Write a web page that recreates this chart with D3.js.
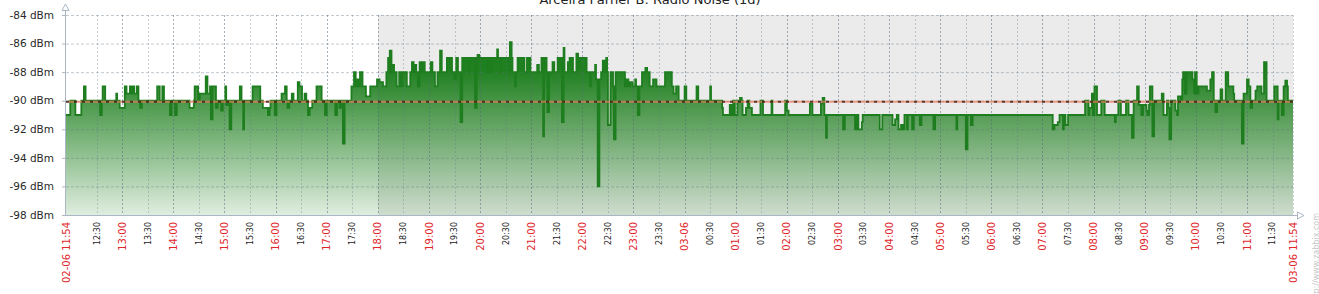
<!DOCTYPE html>
<html><head><meta charset="utf-8">
<script src="https://cdn.jsdelivr.net/npm/d3@7"></script>
<style>html,body{margin:0;padding:0;background:#fff;overflow:hidden}</style>
</head><body><svg id="c" width="1319" height="294"></svg>
<script>
// ---- data ----
const chartTitle = "Arceira Parner B: Radio Noise (1d)";
const periodStart = "2014-06-02T11:54";
const periodEnd = "2014-06-03T11:54";
const offHoursStart = "2014-06-02T18:00";
const yTicks = [-84, -86, -88, -90, -92, -94, -96, -98];
const yUnit = "dBm";
const triggerValue = -90;
const watermark = "http://www.zabbix.com";
// [minutes since period start, noise dBm] — value holds until next change
const noiseSteps = [
[0,-91],[5,-90],[11,-91],[18,-90],[21,-89],[23,-90],[40,-91],[42,-90],[43,-89],[46,-90],[59,-89.5],[60,-90],[63,-90.5],[69,-89],[71,-89.5],[75,-89],[77,-89.5],[79,-89],[80,-89.5],[83,-89],[85,-90],[87,-90.5],[89,-90],[107,-89],[110,-90],[113,-89],[115,-90],[122,-91],[124,-90],[128,-91],[130,-90],[145,-90.5],[150,-90],[151,-89],[155,-90],[157,-89.5],[164,-88.3],[166,-89.5],[169,-89],[170,-91.3],[172,-89],[176,-90.5],[178,-90],[182,-90.7],[184,-90],[187,-89],[188,-90.3],[190,-90],[192,-92],[194,-90],[204,-89],[206,-90],[208,-92],[209,-90],[219,-89],[228,-90],[231,-90.5],[237,-91],[239,-90.5],[240,-90],[245,-91],[247,-90],[253,-89.5],[257,-89],[259,-90],[260,-90.5],[262,-90],[265,-89.5],[267,-90],[272,-88.7],[274,-89],[277,-90],[280,-89.5],[282,-90],[284,-91],[286,-90.5],
[289,-90],[294,-89],[300,-90],[304,-91],[306,-90],[316,-91],[318,-90],[321,-90.5],[323,-90],[325,-93],[327,-90],[335,-89],[338,-88],[340,-89],[342,-88.5],[344,-89],[345,-88],[348,-89],[352,-89.7],[357,-89],[365,-88.5],[368,-88.7],[372,-89],[376,-88],[378,-87],[379,-88],[380,-86.5],[382,-88],[384,-87.5],[385,-88],[388,-89],[391,-88],[393,-89],[395,-88],[400,-89],[404,-88],[406,-87.3],[408,-88],[409,-87.5],[411,-88],[413,-89],[415,-87.3],[417,-88],[419,-87.3],[421,-88],[428,-87.3],[430,-88],[433,-89],[436,-88],[439,-86.5],[441,-88],[447,-87],[453,-88],[456,-88.5],[458,-87],[460,-88],[463,-91.5],[465,-87],[473,-88],[474,-87],[480,-90.5],[482,-87],[483,-86.8],[485,-87],[494,-88],[496,-87],[499,-88],[500,-87],[506,-86.4],[507,-87],[510,-88],[511,-87],[519,-88],[521,-85.9],[523,-87],[524,-88],[527,-89],[528,-88],[530,-87],[538,-88],[541,-87],[545,-88],[553,-87.5],[555,-88],[558,-87],[560,-92.5],[561,-87],[564,-88],[565,-90.8],[567,-88],
[571,-87.3],[573,-88],[577,-87],[582,-91.5],[584,-86.3],[585,-88],[589,-87.3],[591,-87],[595,-88],[599,-86.7],[601,-87.7],[603,-87],[611,-88],[615,-89],[616,-88],[621,-87.5],[622,-88.5],[624,-96],[626,-88.5],[628,-88],[630,-87.2],[632,-88],[634,-87],[635,-88],[636,-91.7],[639,-88],[642,-89],[643,-92.7],[645,-88],[656,-89],[658,-88.5],[660,-89],[662,-88.7],[665,-89],[668,-88.5],[669,-89],[671,-91],[673,-89],[676,-88],[680,-87.7],[682,-88],[685,-89],[689,-88.5],[693,-89],[703,-88],[711,-89],[713,-89.5],[716,-89],[719,-90],[726,-89],[728,-90],[740,-89],[742,-90],[756,-89],[757,-90],[770,-90.5],[771,-91],[779,-90.3],[781,-91],[783,-90],[785,-91],[788,-90],[791,-89.8],[793,-90],[794,-91],[798,-90.5],[800,-90],[802,-90.5],[805,-91],[815,-90],[818,-91],[828,-90],[829,-91],[844,-90],[846,-90.7],[848,-91],
[873,-90.2],[876,-91],[886,-90.2],[888,-89.8],[890,-91],[892,-92.6],[893,-91],[912,-92],[914,-91],[926,-92],[928,-91],[930,-92],[934,-91.5],[935,-91],[955,-92],[958,-91],[970,-91.7],[973,-91.3],[975,-91],[977,-92],[980,-91.7],[982,-92],[984,-91],[987,-92],[988,-91],[993,-92],[995,-91],[1002,-91.7],[1004,-91],[1018,-92],[1020,-91],[1045,-92],[1046,-91],[1056,-93.4],[1058,-91],[1062,-91.7],[1064,-91],
[1158,-92],[1160,-91.7],[1164,-91.5],[1166,-91],[1170,-92],[1171,-91],[1173,-91.7],[1176,-91],[1196,-90],[1200,-91],[1201,-90.5],[1204,-89.5],[1205,-91],[1207,-89],[1210,-91],[1215,-90],[1219,-91],[1231,-91.5],[1232,-91],[1235,-90],[1238,-91],[1244,-90],[1247,-91],[1251,-92.6],[1253,-90],[1257,-89],[1259,-90.3],[1262,-91],[1264,-90.3],[1268,-90.7],[1269,-91],[1271,-90.3],[1272,-89],[1275,-92.5],[1277,-90],[1286,-89.5],[1288,-91],[1292,-90],[1294,-90.5],[1295,-92.7],[1297,-90],[1302,-90.7],[1304,-91],[1305,-89.7],[1308,-90],[1310,-88.5],[1311,-88],[1313,-89.5],[1315,-88],[1322,-88.5],[1324,-89.5],[1325,-88],[1327,-89.5],[1329,-89],[1339,-89.3],[1343,-88.5],[1345,-88],[1347,-90],[1349,-90.8],[1351,-90],[1355,-89.2],[1357,-90],[1361,-88],[1364,-89],[1370,-89.5],[1371,-90],[1380,-93],[1382,-89.5],[1386,-88.5],[1388,-89],[1390,-90.5],[1392,-90],[1396,-89.3],[1398,-89],[1403,-89.5],[1406,-87.3],[1409,-90],[1418,-89],[1422,-91.3],[1423,-90],[1427,-91],[1429,-89],[1431,-88.6],[1433,-89],[1434,-90]
];

// ---- chart ----
const svg = d3.select("#c");
const font = "'DejaVu Sans', Verdana, sans-serif";
const t0 = new Date(periodStart), t1 = new Date(periodEnd);
const x = d3.scaleTime().domain([t0, t1]).range([66, 1293]);
const y = d3.scaleLinear().domain([d3.min(yTicks), d3.max(yTicks)]).range([215, 15]);

const data = noiseSteps.map(([m, v]) => ({t: new Date(+t0 + m * 60000), v}));
data.push({t: t1, v: data[data.length - 1].v});

const defs = svg.append("defs");
const grad = defs.append("linearGradient").attr("id", "fillGrad")
  .attr("gradientUnits", "userSpaceOnUse")
  .attr("x1", 0).attr("x2", 0).attr("y1", y(-84)).attr("y2", y(-98));
grad.append("stop").attr("offset", 0).attr("stop-color", "#1f801f").attr("stop-opacity", 1);
grad.append("stop").attr("offset", 0.27).attr("stop-color", "#1f801f").attr("stop-opacity", 1);
grad.append("stop").attr("offset", 1).attr("stop-color", "#1f801f").attr("stop-opacity", 0.14);

// off-hours shading
svg.append("rect").attr("x", x(new Date(offHoursStart))).attr("y", y(-84))
  .attr("width", x(t1) - x(new Date(offHoursStart))).attr("height", y(-98) - y(-84))
  .attr("fill", "#ebebeb");

// area
svg.append("path").datum(data)
  .attr("d", d3.area().curve(d3.curveStepAfter).x(d => x(d.t)).y0(y(-98)).y1(d => y(d.v)))
  .attr("fill", "url(#fillGrad)");

// grid
const ticks = d3.timeMinute.every(30).range(d3.timeMinute.offset(t0, 30), t1);
const g = svg.append("g");
g.selectAll("line.h").data(yTicks.filter(v => v !== -98)).join("line")
  .attr("x1", 66).attr("x2", x(t1)).attr("y1", d => y(d) + 0.5).attr("y2", d => y(d) + 0.5)
  .attr("stroke", "rgba(95,115,135,0.38)").attr("stroke-dasharray", "3,2");
g.selectAll("line.v").data(ticks.concat([t1])).join("line")
  .attr("x1", d => Math.round(x(d)) + 0.5).attr("x2", d => Math.round(x(d)) + 0.5)
  .attr("y1", y(-84)).attr("y2", y(-98))
  .attr("stroke", d => (d.getMinutes() === 0 ? "rgba(80,100,120,0.5)" : "rgba(95,115,135,0.32)"))
  .attr("stroke-dasharray", "2,2");

// line
svg.append("path").datum(data)
  .attr("d", d3.line().curve(d3.curveStepAfter).x(d => x(d.t)).y(d => y(d.v)))
  .attr("fill", "none").attr("stroke", "#1e7d1e").attr("stroke-width", 1.8);

// trigger line
const ty = y(triggerValue) + 1;
svg.append("line").attr("x1", 66).attr("x2", x(t1)).attr("y1", ty).attr("y2", ty)
  .attr("stroke", "rgba(238,120,90,0.7)").attr("stroke-width", 2);
svg.append("line").attr("x1", 66).attr("x2", x(t1)).attr("y1", ty).attr("y2", ty)
  .attr("stroke", "rgba(0,0,0,0.62)").attr("stroke-width", 2).attr("stroke-dasharray", "3,5");

// axes
const axisCol = "#a9b7c4";
svg.append("line").attr("x1", 65.5).attr("x2", 65.5).attr("y1", 10).attr("y2", 216).attr("stroke", axisCol);
svg.append("path").attr("d", "M62,10.5 L69,10.5 L65.5,4 Z").attr("fill", "#fff").attr("stroke", axisCol);
svg.append("line").attr("x1", 65).attr("x2", 1298).attr("y1", 215.5).attr("y2", 215.5).attr("stroke", axisCol);
svg.append("path").attr("d", "M1297.5,212 L1297.5,219 L1304,215.5 Z").attr("fill", "#fff").attr("stroke", axisCol);

// y labels
svg.selectAll("text.yl").data(yTicks).join("text")
  .attr("x", 54).attr("y", d => y(d)).attr("dy", "0.35em")
  .attr("text-anchor", "end").attr("font-family", font).attr("font-size", "10.5px")
  .attr("fill", "#2a2a2a").text(d => `${d} ${yUnit}`);
svg.selectAll("line.yt").data(yTicks).join("line")
  .attr("x1", 62).attr("x2", 65).attr("y1", d => y(d) + 0.5).attr("y2", d => y(d) + 0.5).attr("stroke", axisCol);

// x labels
const fmtHM = d3.timeFormat("%H:%M"), fmtD = d3.timeFormat("%d-%m"), fmtDHM = d3.timeFormat("%d-%m %H:%M");
const labels = [{t: t0, text: fmtDHM(t0), major: true}]
  .concat(ticks.map(t => ({t,
    text: (t.getHours() === 0 && t.getMinutes() === 0) ? fmtD(t) : fmtHM(t),
    major: t.getMinutes() === 0})))
  .concat([{t: t1, text: fmtDHM(t1), major: true}]);
svg.selectAll("text.xl").data(labels).join("text")
  .attr("transform", d => `translate(${x(d.t)},222) rotate(-90)`)
  .attr("dy", "0.36em").attr("text-anchor", "end")
  .attr("font-family", font).attr("font-size", d => d.major ? "10px" : "8px")
  .attr("fill", d => d.major ? "#e0262b" : "#222").text(d => d.text);

// title (top edge cropped as in the reference)
svg.append("text").attr("x", 650).attr("y", 3.5).attr("text-anchor", "middle")
  .attr("font-family", font).attr("font-size", "13px").attr("fill", "#222").text(chartTitle);

// watermark
svg.append("text").attr("transform", "translate(1319,213) rotate(-90)")
  .attr("text-anchor", "end").attr("font-family", font).attr("font-size", "8px")
  .attr("fill", "#c8c8c8").text(watermark);
</script>
</body></html>
